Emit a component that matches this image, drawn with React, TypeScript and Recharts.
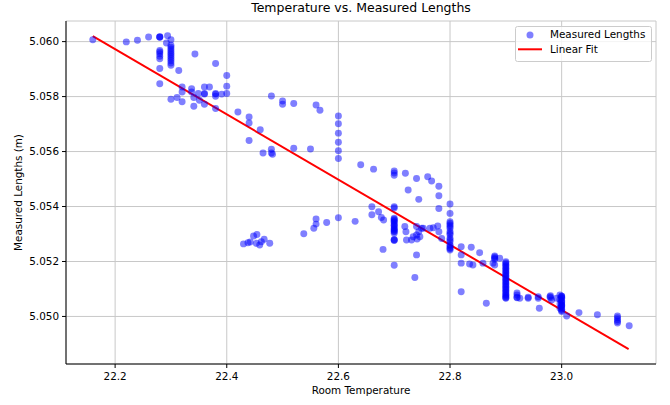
import React from "react"
import { ComposedChart, Scatter, Line, XAxis, YAxis, ZAxis, CartesianGrid, Legend } from "recharts"

// measured points (temperature, length in m)
const roomTemp = [
  22.16, 22.22, 22.24, 22.26, 22.28, 22.28, 22.28, 22.294, 22.3, 22.292,
  22.28, 22.28, 22.28, 22.28, 22.28, 22.28, 22.28,
  22.3, 22.3, 22.3, 22.3, 22.3, 22.3, 22.3, 22.3, 22.3, 22.3, 22.3,
  22.314, 22.343, 22.38, 22.4, 22.4, 22.4,
  22.3, 22.311, 22.32, 22.32, 22.32, 22.337, 22.337, 22.341, 22.341, 22.349, 22.351,
  22.36, 22.36, 22.36, 22.36, 22.369, 22.38, 22.38, 22.38, 22.391, 22.38,
  22.42, 22.44, 22.44, 22.44, 22.46, 22.465, 22.48, 22.48, 22.48, 22.482,
  22.5, 22.5, 22.52, 22.52, 22.55, 22.56, 22.567,
  22.6, 22.6, 22.6, 22.6, 22.6, 22.6,
  22.64, 22.663, 22.7, 22.7, 22.7, 22.72, 22.74, 22.76, 22.767, 22.78,
  22.725, 22.744, 22.78, 22.78, 22.8, 22.8, 22.7, 22.7,
  22.66, 22.66, 22.672, 22.677, 22.681, 22.6, 22.63, 22.579, 22.56, 22.56, 22.556, 22.538, 22.68,
  22.43, 22.438, 22.442, 22.448, 22.454, 22.453, 22.459, 22.462, 22.467, 22.477,
  22.7, 22.7, 22.7, 22.7, 22.7, 22.7, 22.7, 22.7, 22.7, 22.7, 22.7, 22.7,
  22.7, 22.7, 22.7, 22.7, 22.7, 22.7,
  22.719, 22.721, 22.722, 22.731, 22.734, 22.74, 22.741, 22.744, 22.746, 22.749,
  22.74, 22.752, 22.764, 22.77, 22.778, 22.78, 22.785, 22.74, 22.737,
  22.8, 22.8, 22.8, 22.8, 22.8, 22.8, 22.8, 22.8, 22.8, 22.8,
  22.8, 22.8, 22.8, 22.8, 22.8, 22.8,
  22.82, 22.82, 22.838, 22.853, 22.82, 22.835, 22.841, 22.859, 22.88, 22.88, 22.877, 22.889, 22.88,
  22.88, 22.88,
  22.9, 22.9, 22.9, 22.9, 22.9, 22.9, 22.9, 22.9, 22.9, 22.9, 22.9, 22.9, 22.9, 22.9, 22.9,
  22.9, 22.9, 22.9, 22.9, 22.9, 22.9, 22.9, 22.9, 22.9, 22.9, 22.9, 22.9, 22.9, 22.9,
  22.82, 22.865, 22.92, 22.92, 22.925, 22.94, 22.958, 22.96, 22.979, 22.982, 22.991,
  22.92, 22.92, 22.94, 22.958, 22.98, 22.98,
  22.997, 23.0, 22.997, 23.0, 22.997, 23.0, 22.997, 23.0, 23.0,
  23.0, 23.0, 23.0, 23.0, 23.0, 23.0, 23.0, 23.0, 23.0,
  23.009, 23.031, 23.064, 23.1, 23.1, 23.1, 23.121,
  23.1, 23.1,
]

const measuredLength = [
  5.06007, 5.05999, 5.06005, 5.06017, 5.06017, 5.06016, 5.06018, 5.06021, 5.06007, 5.05995,
  5.05968, 5.05962, 5.05956, 5.05947, 5.05938, 5.05902, 5.05847,
  5.05987, 5.0598, 5.05973, 5.05966, 5.05959, 5.05952, 5.05945, 5.05938, 5.0593, 5.05922, 5.05914,
  5.05895, 5.05955, 5.0592, 5.05877, 5.05838, 5.05811,
  5.0579, 5.05797, 5.05835, 5.05817, 5.05781, 5.05829, 5.05817, 5.05797, 5.05765, 5.05811, 5.05787,
  5.05835, 5.05811, 5.05809, 5.05772, 5.05835, 5.05811, 5.05809, 5.05801, 5.05809, 5.05757,
  5.05744, 5.05726, 5.05704, 5.0564, 5.05679, 5.05595, 5.05802, 5.05608, 5.05595, 5.0559,
  5.05784, 5.05772, 5.05775, 5.05612, 5.05609, 5.05769, 5.0575,
  5.05729, 5.05701, 5.05667, 5.05634, 5.05603, 5.05575,
  5.05552, 5.05536, 5.05529, 5.05522, 5.05514, 5.05521, 5.05502, 5.05508, 5.05493, 5.05474,
  5.0546, 5.05426, 5.05439, 5.05393, 5.05409, 5.05375, 5.05399, 5.05395,
  5.05399, 5.0537, 5.05381, 5.0536, 5.05351, 5.05359, 5.05346, 5.05342, 5.05355, 5.05336, 5.05321, 5.05301, 5.05244,
  5.05264, 5.05268, 5.05271, 5.05293, 5.05298, 5.05266, 5.0526, 5.05272, 5.05281, 5.05266,
  5.05357, 5.0535, 5.05343, 5.05336, 5.05329, 5.05322, 5.05315, 5.05308, 5.05303, 5.0528, 5.05276, 5.05186,
  5.05354, 5.05346, 5.05332, 5.05318, 5.05311, 5.05278,
  5.05327, 5.05308, 5.05278, 5.05278, 5.0529, 5.05296, 5.05282, 5.05308, 5.0529, 5.05321,
  5.05327, 5.05321, 5.05321, 5.05323, 5.05329, 5.05308, 5.05284, 5.05224, 5.05142,
  5.05345, 5.05333, 5.05321, 5.05309, 5.05297, 5.05285, 5.05273, 5.05261, 5.0525, 5.05242,
  5.05339, 5.05327, 5.05303, 5.05279, 5.05256, 5.05246,
  5.05254, 5.05224, 5.05252, 5.05232, 5.05194, 5.05191, 5.05187, 5.05194, 5.0522, 5.05212, 5.05194, 5.05212, 5.05187,
  5.05216, 5.05208,
  5.05199, 5.0519, 5.0518, 5.0517, 5.0516, 5.0515, 5.0514, 5.0513, 5.0512, 5.0511, 5.051, 5.0509, 5.0508, 5.05072, 5.05066,
  5.05195, 5.05185, 5.05175, 5.05165, 5.05155, 5.05145, 5.05135, 5.05125, 5.05115, 5.05105, 5.05095, 5.05085, 5.05076, 5.05068,
  5.0509, 5.05048, 5.05085, 5.0507, 5.05066, 5.05066, 5.05066, 5.0503, 5.05072, 5.0506, 5.05066,
  5.05078, 5.05068, 5.0507, 5.05072, 5.05068, 5.05075,
  5.05078, 5.0507, 5.05062, 5.05054, 5.05046, 5.05038, 5.0503, 5.05022, 5.05018,
  5.05074, 5.05066, 5.05058, 5.0505, 5.05042, 5.05034, 5.05026, 5.05074, 5.05042,
  5.05002, 5.05014, 5.05006, 5.05002, 5.04988, 5.04976, 5.04966,
  5.04995, 5.04982,
]

// end points of the fitted line
const fitTemp = [22.16, 23.12]
const fitLength = [5.0602, 5.04881]

const xTicks = [22.2, 22.4, 22.6, 22.8, 23.0]
const yTicks = [5.05, 5.052, 5.054, 5.056, 5.058, 5.06]

const points = roomTemp.map((x, i) => ({ x, y: measuredLength[i] }))
const fitLine = fitTemp.map((x, i) => ({ x, y: fitLength[i] }))

const font = "DejaVu Sans, sans-serif"
const xDomain = [22.112, 23.169]
const yDomain = [5.04827, 5.06075]

const LegendBox = () => (
  <svg width={137} height={36} style={{ display: "block" }}>
    <rect x={0.5} y={0.5} width={136} height={35} rx={2} fill="rgba(255,255,255,0.8)" stroke="#cccccc" />
    <circle cx={15} cy={9} r={3.5} fill="#0000ff" fillOpacity={0.5} />
    <text x={35} y={11.6} fontSize={10.4} fontFamily={font} fill="#000">Measured Lengths</text>
    <line x1={3} x2={27} y1={23.3} y2={23.3} stroke="#ff0000" strokeWidth={2} />
    <text x={35} y={27.3} fontSize={10.4} fontFamily={font} fill="#000">Linear Fit</text>
  </svg>
)

export default function App() {
  return (
    <div style={{ position: "absolute", left: 0, top: 0, width: 670, height: 405, background: "#fff" }}>
      <div style={{ position: "absolute", left: 66, top: 2, width: 590, textAlign: "center", fontFamily: font, fontSize: 12.5, lineHeight: "12.5px", color: "#000" }}>
        Temperature vs. Measured Lengths
      </div>
      <ComposedChart width={670} height={405} margin={{ top: 21, right: 14, bottom: 0, left: 0 }}>
        <CartesianGrid stroke="#c8c8c8" />
        <XAxis
          type="number"
          dataKey="x"
          domain={xDomain}
          allowDataOverflow
          ticks={xTicks}
          tickFormatter={(v) => v.toFixed(1)}
          height={41}
          tickSize={4}
          tickMargin={5}
          stroke="#000"
          tick={{ fill: "#000", fontSize: 10.4, fontFamily: font }}
          label={{ value: "Room Temperature", position: "insideBottom", offset: 11, fill: "#000", fontSize: 10.4, fontFamily: font }}
        />
        <XAxis xAxisId="top" orientation="top" type="number" domain={xDomain} allowDataOverflow height={0} tick={false} tickLine={false} stroke="#000" />
        <YAxis
          type="number"
          dataKey="y"
          domain={yDomain}
          allowDataOverflow
          ticks={yTicks}
          tickFormatter={(v) => v.toFixed(3)}
          width={66}
          tickSize={4}
          tickMargin={3}
          stroke="#000"
          tick={{ fill: "#000", fontSize: 10.4, fontFamily: font }}
          label={{ value: "Measured Lengths (m)", angle: -90, position: "insideLeft", offset: 18, fill: "#000", fontSize: 10.4, fontFamily: font, style: { textAnchor: "middle" } }}
        />
        <YAxis yAxisId="right" orientation="right" type="number" domain={yDomain} allowDataOverflow width={0} tick={false} tickLine={false} stroke="#000" />
        <ZAxis range={[38, 38]} />
        <Scatter name="Measured Lengths" data={points} fill="#0000ff" fillOpacity={0.5} isAnimationActive={false} />
        <Line name="Linear Fit" data={fitLine} dataKey="y" type="linear" stroke="#ff0000" strokeWidth={2} dot={false} activeDot={false} isAnimationActive={false} />
        <Legend layout="vertical" align="center" verticalAlign="middle" wrapperStyle={{ top: 26, left: 515, width: 137, height: 36 }} content={() => <LegendBox />} />
      </ComposedChart>
    </div>
  )
}
